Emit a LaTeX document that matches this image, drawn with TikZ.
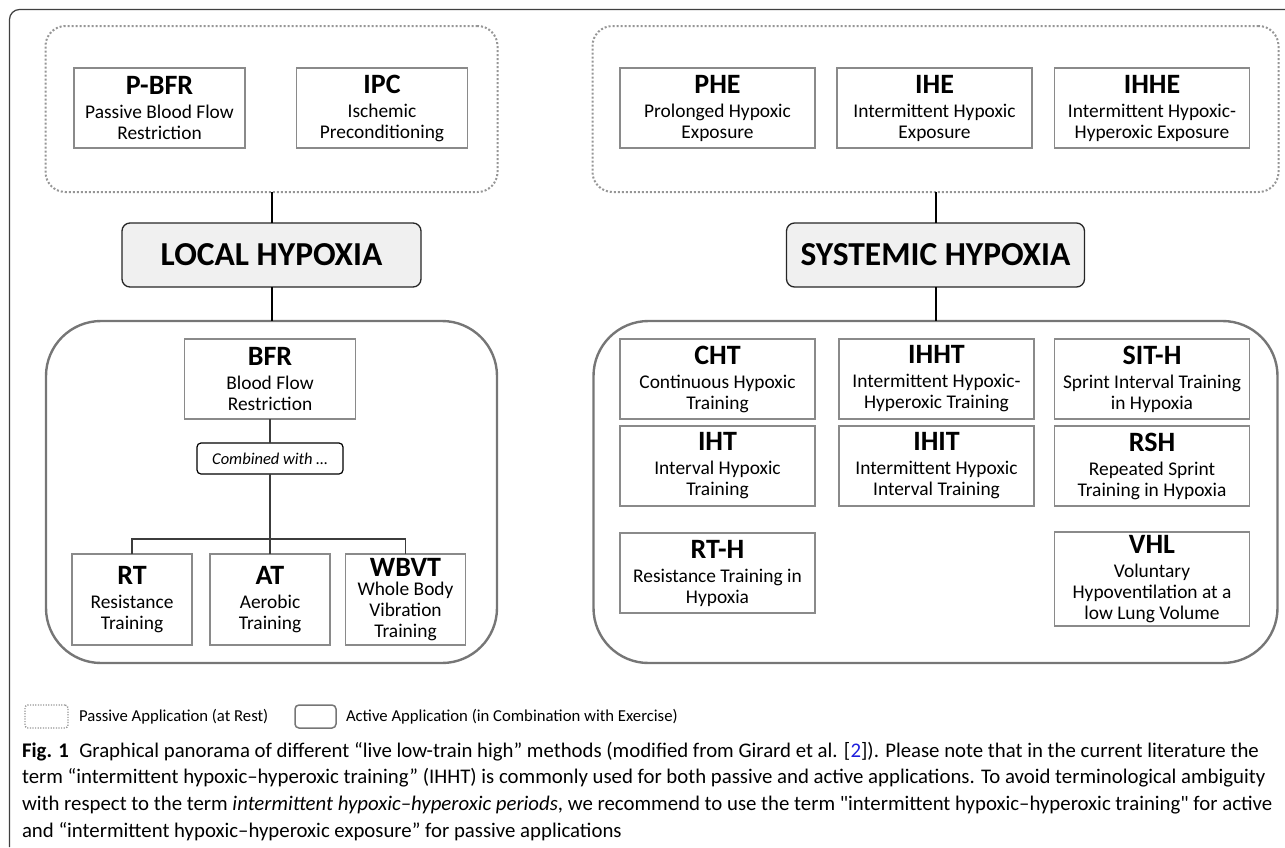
\documentclass[tikz,border=0pt]{standalone}
\usepackage{fontspec}
\setmainfont{Carlito}
\usepackage{tikz}
\usetikzlibrary{calc}

\definecolor{boxgray}{RGB}{138,138,138}
\definecolor{dotgray}{RGB}{150,150,150}
\definecolor{framegray}{RGB}{118,118,118}
\definecolor{fillgray}{RGB}{240,240,240}
\definecolor{linkgray}{RGB}{60,60,60}
\definecolor{citeblue}{RGB}{30,30,220}

\newcommand{\meth}[3][3pt]{{\fontsize{28}{28}\selectfont\bfseries #2}\\[#1]#3}

\begin{document}
\begin{tikzpicture}[y=1pt, x=1pt, yscale=-1, inner sep=0pt, outer sep=0pt,
  method/.style={draw=boxgray, line width=1.2pt, fill=white, align=center,
    font=\fontsize{19.4}{21}\selectfont},
  narrow/.style={minimum width=171pt, minimum height=80pt},
  wide/.style={minimum width=195pt, minimum height=80pt},
  basebox/.style={minimum width=120pt, minimum height=91pt},
  passive/.style={draw=dotgray, line width=2pt, line cap=butt,
    dash pattern=on 2pt off 2pt, rounded corners=20pt},
  active/.style={draw=framegray, line width=2.4pt, rounded corners=55pt},
  hypoxia/.style={draw=black!85, line width=1.3pt, fill=fillgray,
    rounded corners=8pt, minimum height=64pt,
    font=\fontsize{33.5}{33.5}\selectfont\bfseries},
  link/.style={draw=black, line width=2pt},
  thin link/.style={draw=linkgray, line width=1.3pt}]

\useasboundingbox (0,0) rectangle (1285,847);

\path[draw=black!75, line width=1.2pt, rounded corners=10pt]
  (9.5,847) -- (9.5,9.5) -- (1285,9.5);

\node[passive, minimum width=452pt, minimum height=166pt] (passL) at (271.5,109) {};
\node[passive, minimum width=686pt, minimum height=166pt] (passR) at (935.5,109) {};
\node[active, minimum width=451pt, minimum height=342pt] (actL) at (271.5,492) {};
\node[active, minimum width=684pt, minimum height=342pt] (actR) at (935.5,492) {};

\node[hypoxia, minimum width=299pt] (local) at (271.5,255) {LOCAL HYPOXIA};
\node[hypoxia, minimum width=298pt] (systemic) at (935.5,255) {SYSTEMIC HYPOXIA};

\path[link] (passL.south) -- (local.north);
\path[link] (local.south) -- (actL.north);
\path[link] (passR.south) -- (systemic.north);
\path[link] (systemic.south) -- (actR.north);

\node[method, narrow] (pbfr) at (159.5,108) {\meth{P-BFR}{Passive Blood Flow\\Restriction}};
\node[method, narrow] (ipc) at (382,108) {\meth{IPC}{Ischemic\\Preconditioning}};

\node[method, wide] (phe) at (717.5,108) {\meth{PHE}{Prolonged Hypoxic\\Exposure}};
\node[method, wide] (ihe) at (934.5,108) {\meth{IHE}{Intermittent Hypoxic\\Exposure}};
\node[method, wide] (ihhe) at (1152,108) {\meth{IHHE}{Intermittent Hypoxic-\\Hyperoxic Exposure}};

\node[method, narrow] (bfr) at (270,379) {\meth{BFR}{Blood Flow\\Restriction}};
\node[draw=black, line width=1.2pt, rounded corners=4pt, fill=white,
  minimum width=146pt, minimum height=31pt,
  font=\fontsize{16.5}{18}\selectfont\itshape] (comb) at (270,458.5) {Combined with …};
\node[method, basebox] (rt) at (132,599.5) {\meth{RT}{Resistance\\Training}};
\node[method, basebox] (at) at (270,599.5) {\meth{AT}{Aerobic\\Training}};
\node[method, basebox] (wbvt) at (405.5,599.5) {\meth[-2pt]{WBVT}{Whole Body\\Vibration\\Training}};
\coordinate (bar) at (270,539);

\path[thin link] (bfr.south) -- (comb.north);
\path[thin link] (comb.south) -- (at.north);
\path[thin link] (rt.north) |- (bar) -| (wbvt.north);

\node[method, wide] (cht) at (717.5,379) {\meth{CHT}{Continuous Hypoxic\\Training}};
\node[method, wide] (ihht) at (936.5,379) {\meth{IHHT}{Intermittent Hypoxic-\\Hyperoxic Training}};
\node[method, wide] (sith) at (1152,379) {\meth{SIT-H}{Sprint Interval Training\\in Hypoxia}};
\node[method, wide] (iht) at (717.5,466) {\meth{IHT}{Interval Hypoxic\\Training}};
\node[method, wide] (ihit) at (936.5,466) {\meth{IHIT}{Intermittent Hypoxic\\Interval Training}};
\node[method, wide] (rsh) at (1152,466) {\meth{RSH}{Repeated Sprint\\Training in Hypoxia}};
\node[method, wide] (rth) at (717.5,573) {\meth{RT-H}{Resistance Training in\\Hypoxia}};
\node[method, wide, minimum height=94pt] (vhl) at (1152,579) {\meth{VHL}{Voluntary\\Hypoventilation at a\\low Lung Volume}};

\node[draw=dotgray, line width=1.4pt, dash pattern=on 1.2pt off 1.4pt,
  rounded corners=3pt, minimum width=43pt, minimum height=23pt] (legP) at (46.5,716.5) {};
\node[anchor=west, font=\fontsize{16.7}{18}\selectfont] (legPtext) at (79,716.5)
  {Passive Application (at Rest)};
\node[draw=framegray, line width=1.5pt, rounded corners=4pt,
  minimum width=41pt, minimum height=23pt] (legA) at (315.5,716.5) {};
\node[anchor=west, font=\fontsize{16.7}{18}\selectfont] (legAtext) at (346,716.5)
  {Active Application (in Combination with Exercise)};

\node[anchor=north west, align=left, font=\fontsize{20.8}{26.7}\selectfont] (caption) at (22,742)
  {{\bfseries Fig. 1}\enspace Graphical panorama of different “live low-train high” methods (modified from Girard et al. [{\color{citeblue}2}]). Please note that in the current literature the\\
  term “intermittent hypoxic–hyperoxic training” (IHHT) is commonly used for both passive and active applications. To avoid terminological ambiguity\\
  with respect to the term \textit{intermittent hypoxic–hyperoxic periods}, we recommend to use the term \textquotedbl intermittent hypoxic–hyperoxic training\textquotedbl{} for active\\
  and “intermittent hypoxic–hyperoxic exposure” for passive applications};

\end{tikzpicture}
\end{document}
